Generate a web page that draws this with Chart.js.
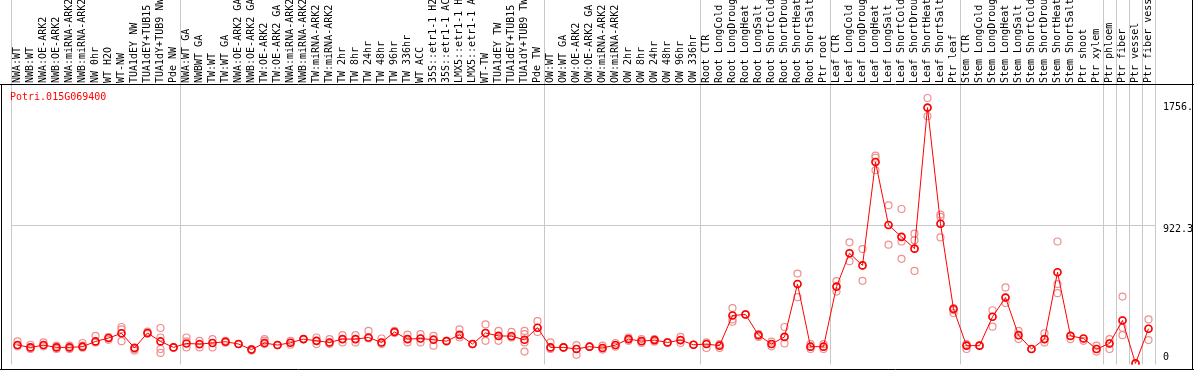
<!DOCTYPE html>
<html>
<head>
<meta charset="utf-8">
<script src="https://cdn.jsdelivr.net/npm/chart.js@4"></script>
<style>
html, body { margin: 0; padding: 0; background: #fff; }
#wrap { width: 1194px; height: 370px; position: relative; }
</style>
</head>
<body>
<div id="wrap"><canvas id="myChart"></canvas></div>
<script>
// Etiquetas de las muestras (tal como aparecen, recortadas a 14 caracteres)
var categories = [
  'NWA:WT', 'NWB:WT', 'NWA:OE-ARK2', 'NWB:OE-ARK2', 'NWA:miRNA-ARK2', 'NWB:miRNA-ARK2',
  'NW 0hr', 'WT H2O', 'WT-NW', 'TUA1dEY NW', 'TUA1dEY+TUB15', 'TUA1dY+TUB9 NW', 'Pde NW',
  'NWA:WT GA', 'NWBWT GA', 'TW:WT', 'TW:WT GA', 'NWA:OE-ARK2 GA', 'NWB:OE-ARK2 GA',
  'TW:OE-ARK2', 'TW:OE-ARK2 GA', 'NWA:miRNA-ARK2', 'NWB:miRNA-ARK2', 'TW:miRNA-ARK2', 'TW:miRNA-ARK2',
  'TW 2hr', 'TW 8hr', 'TW 24hr', 'TW 48hr', 'TW 96hr', 'TW 336hr', 'WT ACC',
  '35S::etr1-1 H2', '35S::etr1-1 AC', 'LMX5::etr1-1 H', 'LMX5::etr1-1 A',
  'WT-TW', 'TUA1dEY TW', 'TUA1dEY+TUB15', 'TUA1dY+TUB9 TW', 'Pde TW',
  'OW:WT', 'OW:WT GA', 'OW:OE-ARK2', 'OW:OE-ARK2 GA', 'OW:miRNA-ARK2', 'OW:miRNA-ARK2',
  'OW 2hr', 'OW 8hr', 'OW 24hr', 'OW 48hr', 'OW 96hr', 'OW 336hr',
  'Root CTR', 'Root LongCold', 'Root LongDroug', 'Root LongHeat', 'Root LongSalt',
  'Root ShortCold', 'Root ShortDrou', 'Root ShortHeat', 'Root ShortSalt', 'Ptr root',
  'Leaf CTR', 'Leaf LongCold', 'Leaf LongDroug', 'Leaf LongHeat', 'Leaf LongSalt',
  'Leaf ShortCold', 'Leaf ShortDrou', 'Leaf ShortHeat', 'Leaf ShortSalt', 'Ptr leaf',
  'Stem CTR', 'Stem LongCold', 'Stem LongDroug', 'Stem LongHeat', 'Stem LongSalt',
  'Stem ShortCold', 'Stem ShortDrou', 'Stem ShortHeat', 'Stem ShortSalt', 'Ptr shoot',
  'Ptr xylem', 'Ptr phloem', 'Ptr fiber', 'Ptr vessel', 'Ptr fiber vess'
];

// Valor medio de expresión por muestra
var meanVals = [
  126, 110, 126, 110, 110, 115, 151, 174, 207, 106, 209, 151, 110,
  137, 133, 140, 149, 133, 95, 140, 126, 142, 167, 155, 144,
  167, 167, 178, 144, 216, 167, 171, 162, 153, 196, 133,
  209, 189, 187, 162, 245,
  110, 110, 99, 115, 106, 126, 167, 153, 160, 144, 160, 128,
  133, 122, 329, 336, 194, 133, 182, 545, 115, 115,
  527, 756, 673, 1383, 950, 869, 788, 1756.4, 959, 374,
  122, 122, 320, 452, 194, 99, 167, 626, 189, 171, 99,
  137, 295, 0, 238
];

// Réplicas individuales (null donde no hay)
var rep1 = [
  151, 128, 144, 122, 122, 140, 189, 180, 250, 110, 218, 243, 110,
  178, 155, 167, 155, 133, 99, 167, 126, 155, 167, 178, 167,
  194, 194, 223, 171, 223, 198, 201, 189, 155, 234, 133,
  268, 223, 216, 223, 290,
  144, 110, 126, 115, 122, 140, 178, 167, 167, 144, 182, 128,
  144, 133, 380, 336, 201, 149, 250, 617, 133, 133,
  565, 831, 785, 1427, 1085, 1060, 891, 1822, 1022, 380,
  133, 122, 365, 522, 223, 99, 207, 837, 189, 171, 122,
  167, 459, 0, 302
];
var rep2 = [
  126, 110, 126, 110, 110, 122, 151, 174, 234, 99, 207, 178, 110,
  151, 128, 140, 149, 133, 88, 155, 126, 142, 167, 155, 144,
  167, 167, 178, 144, 216, 167, 171, 167, 155, 196, 133,
  209, 189, 189, 201, 245,
  110, 110, 99, 115, 106, 126, 167, 153, 160, 144, 160, 128,
  133, 122, 329, 336, 194, 133, 182, 545, 115, 115,
  527, 756, 673, 1412, 950, 869, 846, 1754, 1006, 365,
  122, 122, 320, 452, 194, 99, 167, 626, 167, 155, 99,
  137, 295, 0, 238
];
var rep3 = [
  117, 99, 117, 99, 99, 108, 144, 162, 207, 88, 203, 99, 110,
  110, 110, 110, 142, 133, 95, 133, 126, 128, 167, 133, 133,
  144, 144, 171, 133, 209, 144, 144, 122, 155, 178, 133,
  155, 155, 178, 144, 216,
  99, 110, 59, 115, 95, 115, 155, 140, 149, 144, 140, 128,
  106, 106, 302, 336, 182, 117, 137, 455, 99, 99,
  493, 702, 567, 1383, 815, 837, 788, 1697, 959, 346,
  99, 122, 252, 414, 167, 99, 144, 545, null, null, 81,
  99, 245, 0, 160
];
var rep4 = [
  null, null, null, null, null, null, null, null, 153, null, null, 72, null,
  null, null, null, null, null, null, null, null, null, null, null, null,
  null, null, null, null, null, null, null, null, null, null, null,
  null, null, null, 81, null,
  null, null, null, null, null, null, null, null, null, null, null, null,
  null, null, 286, null, null, null, null, null, null, null,
  null, null, null, 1326, null, 718, 635, null, 865, null,
  null, null, null, null, null, null, null, 482, null, null, null,
  null, 194, null, null
];

// Posiciones del eje Y: etiquetas y línea de referencia
var yTickVals = [0, 922.3, 1756.4];
var yGridVal = 945.6;

// Índices de las muestras que cierran cada grupo
var groupEnds = [0, 13, 41, 53, 63, 73, 84, 85, 86, 87, 88];

var monoFont = { family: 'DejaVu Sans Mono', size: 10 };

var framePlugin = {
  id: 'framePlugin',
  beforeDatasetsDraw: function(chart) {
    var c = chart.ctx, x = chart.scales.x, area = chart.chartArea;
    c.save();
    c.strokeStyle = '#c8c8c8';
    c.lineWidth = 1;
    groupEnds.forEach(function(b) {
      var px = Math.round(x.getPixelForValue(b - 0.5)) + 0.5;
      c.beginPath();
      c.moveTo(px, 0);
      c.lineTo(px, area.bottom);
      c.stroke();
    });
    c.restore();
  },
  afterDraw: function(chart) {
    var c = chart.ctx, area = chart.chartArea, w = chart.width, h = chart.height;
    c.save();
    c.strokeStyle = '#000';
    c.lineWidth = 1;
    c.beginPath();
    c.moveTo(0, area.top - 0.5); c.lineTo(w, area.top - 0.5);
    c.moveTo(0, h - 0.5); c.lineTo(w, h - 0.5);
    c.moveTo(1.5, area.top); c.lineTo(1.5, h);
    c.moveTo(w - 1.5, 0); c.lineTo(w - 1.5, h);
    c.stroke();
    // Nombre del gen
    c.fillStyle = '#ff0000';
    c.font = '10px "DejaVu Sans Mono"';
    c.textBaseline = 'middle';
    c.textAlign = 'left';
    c.fillText('Potri.015G069400', 10, area.top + 12);
    c.restore();
  }
};

function noPad(s) {
  s.paddingLeft = 0; s.paddingRight = 0; s.paddingTop = 0; s.paddingBottom = 0;
}

function repSet(arr) {
  return {
    data: arr,
    showLine: false,
    borderColor: '#ee9090',
    backgroundColor: 'transparent',
    pointRadius: 3.5,
    pointBorderWidth: 1.2,
    order: 2
  };
}

var ctx = document.getElementById('myChart').getContext('2d');
var chart = new Chart(ctx, {
  type: 'line',
  data: {
    labels: categories,
    datasets: [
      {
        data: meanVals,
        borderColor: '#ff0000',
        borderWidth: 1,
        backgroundColor: 'transparent',
        pointBorderColor: '#ff0000',
        pointRadius: 3.5,
        pointBorderWidth: 1.6,
        tension: 0,
        order: 0
      },
      repSet(rep1), repSet(rep2), repSet(rep3), repSet(rep4)
    ]
  },
  options: {
    responsive: true,
    maintainAspectRatio: false,
    animation: false,
    layout: { padding: { left: 11, right: 1, top: 0, bottom: 1 } },
    plugins: { legend: { display: false }, tooltip: { enabled: false } },
    scales: {
      x: {
        type: 'category',
        position: 'top',
        offset: true,
        grid: { display: false, drawTicks: false },
        border: { display: false },
        ticks: {
          autoSkip: false,
          minRotation: 90,
          maxRotation: 90,
          padding: 2,
          labelOffset: 12,
          color: '#000',
          font: monoFont
        },
        afterFit: function(s) { s.height = 85; noPad(s); }
      },
      y: {
        position: 'right',
        min: -6.75,
        max: 1911.4,
        border: { display: false },
        grid: {
          drawTicks: false,
          color: function(c) { return c.tick && c.tick.value === yGridVal ? '#c8c8c8' : 'transparent'; }
        },
        afterBuildTicks: function(s) {
          s.ticks = yTickVals.concat([yGridVal]).map(function(v) { return { value: v }; });
        },
        ticks: {
          autoSkip: false,
          padding: 8,
          color: '#000',
          font: monoFont,
          callback: function(v) {
            if (v === yGridVal) return '';
            if (v === 0) return ['0', ''];
            return String(v).slice(0, 5);
          }
        },
        afterFit: function(s) { s.width = 38; noPad(s); }
      }
    }
  },
  plugins: [framePlugin]
});
</script>
</body>
</html>
